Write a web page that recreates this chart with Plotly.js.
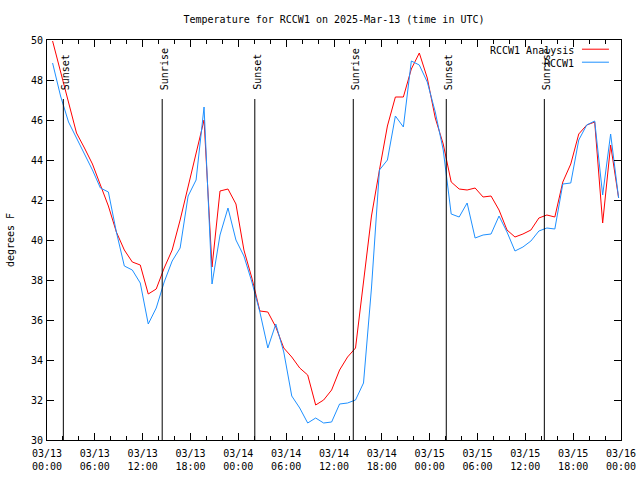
<!DOCTYPE html>
<html>
<head>
<meta charset="utf-8">
<script src="https://cdn.plot.ly/plotly-3.0.1.min.js"></script>
<style>
  html, body { margin: 0; padding: 0; background: #fff; }
  #chart { width: 640px; height: 480px; }
</style>
</head>
<body>
<div id="chart"></div>
<script>
// ---- Data ----
const startTime = '2025-03-13T00:42:00';   // first hourly sample
const analysisTemps = [
  49.95, 48.4, 46.85, 45.35, 44.6, 43.8, 42.75, 41.7, 40.4, 39.5,
  38.9, 38.75, 37.3, 37.55, 38.6, 39.5, 41.0, 42.7, 44.4, 46.0,
  38.65, 42.45, 42.55, 41.8, 39.5, 38.1, 36.45, 36.4, 35.65, 34.6,
  34.15, 33.6, 33.25, 31.75, 32.0, 32.5, 33.5, 34.15, 34.6, 37.9,
  41.2, 43.5, 45.7, 47.15, 47.15, 48.55, 49.35, 48.1, 46.1, 44.8,
  42.9, 42.55, 42.5, 42.6, 42.15, 42.2, 41.5, 40.5, 40.15, 40.3,
  40.5, 41.1, 41.25, 41.15, 42.9, 43.8, 45.3, 45.75, 45.9, 40.85,
  44.75, 42.1
];
const observedTemps = [
  48.85, 47.2, 45.9, 45.1, 44.3, 43.5, 42.6, 42.4, 40.4, 38.7,
  38.5, 37.85, 35.8, 36.6, 37.9, 38.95, 39.6, 42.2, 43.0, 46.65,
  37.8, 40.25, 41.6, 40.0, 39.2, 37.9, 36.4, 34.6, 35.8, 34.4,
  32.2, 31.6, 30.85, 31.1, 30.85, 30.9, 31.8, 31.85, 32.0, 32.85,
  37.6, 43.5, 44.0, 46.2, 45.65, 48.95, 48.75, 47.9, 46.4, 44.5,
  41.3, 41.15, 41.85, 40.1, 40.25, 40.3, 41.2, 40.4, 39.45, 39.65,
  39.95, 40.45, 40.6, 40.55, 42.8, 42.85, 45.0, 45.75, 45.95, 42.25,
  45.3, 42.1
];
const sunEventTimes  = ['2025-03-13 02:03', '2025-03-13 14:27', '2025-03-14 02:04',
                        '2025-03-14 14:25', '2025-03-15 02:05', '2025-03-15 14:23'];
const sunEventLabels = ['Sunset', 'Sunrise', 'Sunset', 'Sunrise', 'Sunset', 'Sunrise'];
const seriesNames = ['RCCW1 Analysis', 'RCCW1'];
const seriesColors = ['#ff0000', '#1e90ff'];
const xRange = ['2025-03-13 00:00', '2025-03-16 00:00'];
const yRange = [30, 50];

// ---- Build timestamps (hourly sampling) ----
function hourlyTimes(start, n) {
  const t0 = new Date(start + 'Z').getTime();
  const out = [];
  for (let i = 0; i < n; i++) {
    const d = new Date(t0 + i * 3600000);
    out.push(d.toISOString().replace('T', ' ').slice(0, 16));
  }
  return out;
}
const times = hourlyTimes(startTime, analysisTemps.length);

const FONT = 'DejaVu Sans Mono, monospace';

const traces = [
  { x: times, y: analysisTemps, type: 'scatter', mode: 'lines', name: seriesNames[0],
    line: { color: seriesColors[0], width: 1 }, hoverinfo: 'x+y' },
  { x: times, y: observedTemps, type: 'scatter', mode: 'lines', name: seriesNames[1],
    line: { color: seriesColors[1], width: 1 }, hoverinfo: 'x+y' }
];

const shapes = [];
const annotations = [];
sunEventTimes.forEach((t, i) => {
  shapes.push({ type: 'line', xref: 'x', yref: 'paper', x0: t, x1: t, y0: 0, y1: 0.8525,
                line: { color: '#000', width: 1 } });
  annotations.push({ x: t, xref: 'x', y: 0.87, yref: 'paper', text: sunEventLabels[i],
                     textangle: -90, showarrow: false, xanchor: 'center', yanchor: 'bottom',
                     xshift: 2, font: { family: FONT, size: 10, color: '#000' } });
});

// manual gnuplot-style legend (text left of sample)
const legendRows = [0.975, 0.9425];
seriesNames.forEach((nm, i) => {
  annotations.push({ x: 0.921, xref: 'paper', y: legendRows[i], yref: 'paper', text: nm,
                     showarrow: false, xanchor: 'right', yanchor: 'middle',
                     font: { family: FONT, size: 10, color: '#000' } });
  shapes.push({ type: 'line', xref: 'paper', yref: 'paper', x0: 0.932, x1: 0.979,
                y0: legendRows[i] + 0.002, y1: legendRows[i] + 0.002,
                line: { color: seriesColors[i], width: 1 } });
});

const layout = {
  width: 640, height: 480,
  margin: { l: 47, r: 19, t: 40, b: 40 },
  paper_bgcolor: '#fff', plot_bgcolor: '#fff',
  showlegend: false,
  font: { family: FONT, size: 10, color: '#000' },
  title: { text: 'Temperature for RCCW1 on 2025-Mar-13 (time in UTC)',
           xref: 'paper', x: 0.5, xanchor: 'center',
           yref: 'container', y: 0.96, yanchor: 'middle',
           font: { family: FONT, size: 10, color: '#000' } },
  xaxis: {
    type: 'date', range: xRange, tick0: xRange[0], dtick: 21600000,
    tickformat: '%m/%d<br>%H:%M', ticks: 'inside', ticklen: 7, tickwidth: 1, tickcolor: '#000',
    ticklabelstandoff: 4,
    minor: { dtick: 7200000, ticks: 'inside', ticklen: 4, tickcolor: '#000', showgrid: false },
    showline: true, linecolor: '#000', linewidth: 1, mirror: 'allticks',
    showgrid: false, zeroline: false,
    tickfont: { family: FONT, size: 10, color: '#000' }
  },
  yaxis: {
    range: yRange, dtick: 2, ticks: 'inside', ticklen: 7, tickwidth: 1, tickcolor: '#000',
    ticklabelstandoff: 1,
    showline: true, linecolor: '#000', linewidth: 1, mirror: 'allticks',
    showgrid: false, zeroline: false,
    tickfont: { family: FONT, size: 10, color: '#000' },
    title: { text: 'degrees F', standoff: 14, font: { family: FONT, size: 10, color: '#000' } }
  },
  shapes: shapes,
  annotations: annotations
};

Plotly.newPlot('chart', traces, layout, { displayModeBar: false, staticPlot: true });
</script>
</body>
</html>
